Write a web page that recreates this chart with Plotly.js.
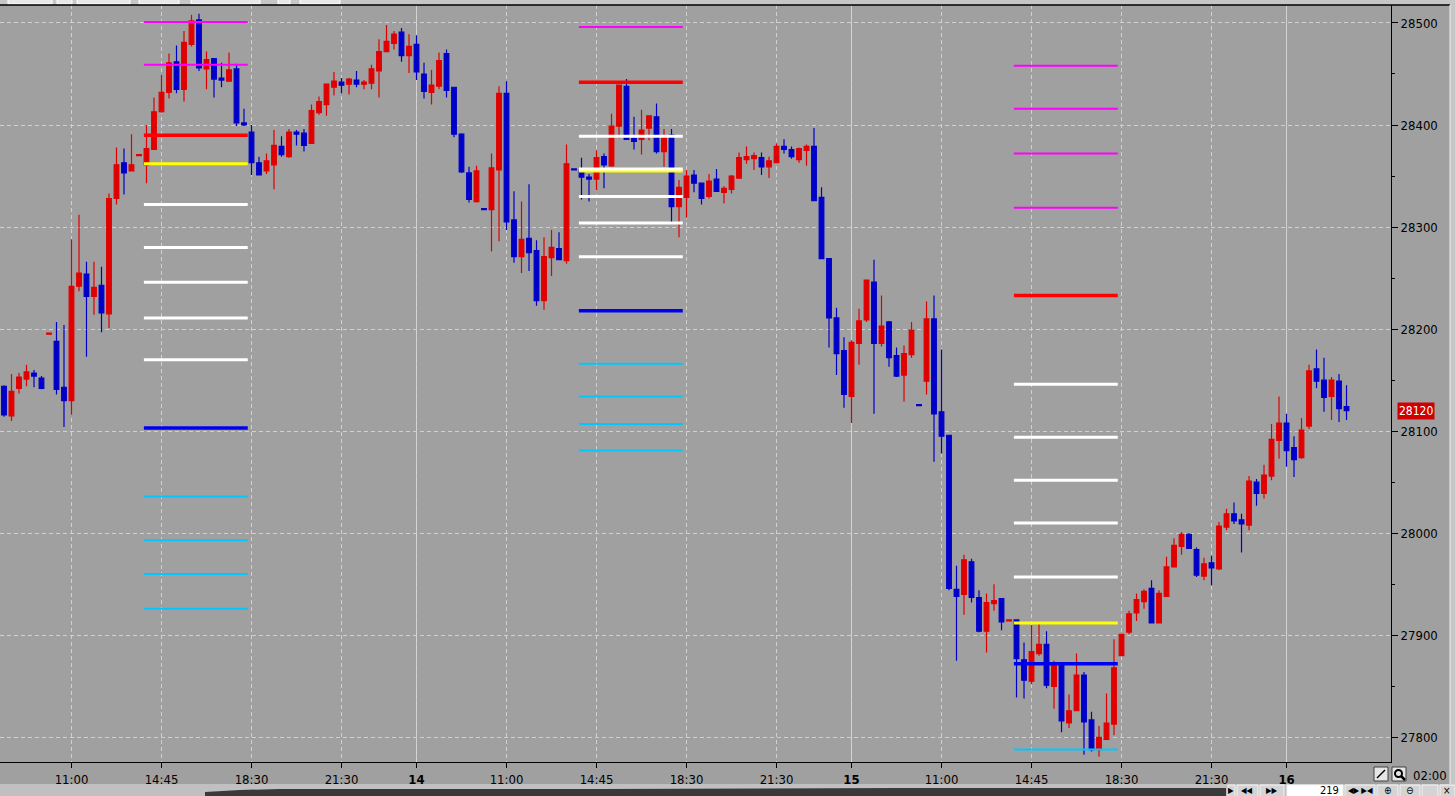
<!DOCTYPE html>
<html>
<head>
<meta charset="utf-8">
<script src="https://cdn.plot.ly/plotly-3.0.1.min.js"></script>
<style>
  html, body { margin: 0; padding: 0; background: #a0a0a0; overflow: hidden; }
  #chart { width: 1455px; height: 796px; }
</style>
</head>
<body>
<div id="chart"></div>
<script>
// 15 min style bars, one value per bar (index 0..179)
const openPx = [
  28144,28115,28142,28151,28157,28152,28195,28188,28143,28130,
  28242,28254,28232,28243,28215,28328,28363,28355,28370,28361,
  28376,28413,28432,28462,28435,28479,28503,28455,28465,28446,
  28443,28455,28402,28393,28363,28355,28361,28379,28369,28393,
  28392,28382,28412,28420,28437,28442,28440,28444,28440,28441,
  28453,28472,28480,28491,28468,28479,28450,28432,28438,28470,
  28437,28391,28353,28325,28318,28317,28356,28431,28307,28271,
  28289,28277,28228,28270,28279,28267,28357,28356,28349,28347,
  28369,28360,28399,28438,28387,28386,28397,28408,28374,28390,
  28320,28329,28351,28343,28330,28347,28334,28337,28348,28366,
  28367,28368,28359,28363,28379,28376,28366,28375,28379,28329,
  28269,28211,28179,28134,28186,28209,28246,28186,28207,28174,
  28155,28175,28126,28149,28210,28119,28096,27945,27940,27972,
  27937,27904,27931,27936,27914,27915,27876,27855,27882,27891,
  27850,27873,27814,27826,27861,27817,27788,27798,27813,27880,
  27903,27922,27933,27946,27912,27938,27967,27987,27999,27984,
  27958,27971,27965,28006,28019,28013,28008,28050,28039,28056,
  28091,28108,28084,28074,28105,28161,28150,28134,28149,28124
];
const highPx = [
  28145,28156,28157,28165,28160,28154,28196,28207,28204,28288,
  28312,28266,28266,28261,28333,28378,28377,28391,28371,28400,
  28427,28449,28470,28478,28492,28508,28509,28472,28465,28461,
  28471,28460,28416,28400,28369,28372,28395,28389,28396,28395,
  28396,28420,28428,28440,28452,28446,28446,28453,28444,28459,
  28484,28498,28492,28495,28489,28488,28461,28454,28471,28474,
  28437,28392,28359,28360,28318,28372,28438,28443,28335,28325,
  28342,28287,28290,28297,28295,28381,28357,28368,28352,28375,
  28372,28411,28439,28445,28408,28415,28409,28421,28396,28396,
  28346,28356,28356,28343,28352,28357,28340,28351,28373,28379,
  28373,28373,28369,28382,28386,28379,28378,28381,28397,28339,
  28269,28221,28192,28189,28220,28248,28268,28233,28208,28182,
  28184,28207,28126,28227,28233,28180,28096,27968,27979,27975,
  27944,27941,27950,27936,27915,27915,27893,27910,27912,27904,
  27875,27873,27842,27882,27864,27825,27811,27843,27896,27901,
  27924,27941,27945,27954,27944,27977,27995,28001,28000,27986,
  27976,27978,28011,28024,28030,28019,28056,28053,28067,28107,
  28134,28117,28095,28113,28165,28180,28172,28153,28156,28145
];
const lowPx = [
  28114,28110,28137,28144,28143,28141,28195,28136,28104,28116,
  28237,28173,28214,28197,28201,28322,28332,28355,28370,28343,
  28376,28412,28426,28431,28423,28477,28453,28435,28427,28437,
  28443,28399,28399,28351,28351,28352,28337,28369,28368,28380,
  28374,28382,28410,28409,28429,28431,28430,28437,28435,28435,
  28427,28472,28474,28462,28451,28444,28426,28420,28435,28427,
  28388,28353,28324,28324,28317,28276,28286,28297,28265,28255,
  28257,28223,28219,28252,28268,28264,28356,28327,28325,28336,
  28338,28359,28387,28386,28376,28371,28385,28372,28359,28304,
  28290,28309,28334,28322,28328,28335,28323,28333,28347,28362,
  28356,28351,28348,28363,28372,28367,28363,28360,28326,28269,
  28182,28155,28123,28108,28165,28207,28117,28183,28163,28153,
  28129,28172,28125,28136,28070,28078,27944,27875,27920,27932,
  27903,27883,27924,27905,27914,27839,27838,27852,27880,27848,
  27828,27805,27809,27826,27783,27786,27781,27798,27802,27880,
  27901,27914,27926,27912,27912,27938,27967,27979,27985,27957,
  27954,27949,27964,28003,28009,27981,28003,28027,28034,28052,
  28073,28065,28055,28073,28102,28142,28119,28111,28109,28111
];
const closePx = [
  28116,28139,28153,28158,28154,28142,28196,28141,28130,28242,
  28255,28232,28241,28216,28328,28361,28353,28361,28371,28377,
  28413,28432,28461,28435,28481,28502,28456,28464,28445,28444,
  28454,28402,28400,28363,28351,28365,28380,28371,28393,28391,
  28380,28414,28423,28440,28443,28439,28445,28440,28442,28455,
  28472,28482,28489,28468,28477,28452,28433,28439,28463,28434,
  28391,28354,28327,28355,28317,28358,28431,28305,28271,28288,
  28275,28228,28271,28280,28268,28362,28356,28349,28347,28368,
  28361,28399,28439,28386,28384,28395,28409,28374,28389,28320,
  28339,28350,28343,28328,28345,28335,28338,28350,28368,28369,
  28370,28359,28365,28379,28376,28369,28377,28379,28326,28269,
  28211,28176,28136,28187,28208,28248,28186,28203,28172,28154,
  28176,28199,28125,28210,28117,28095,27946,27938,27974,27937,
  27904,27932,27934,27913,27915,27877,27856,27884,27891,27851,
  27873,27816,27826,27861,27815,27788,27800,27814,27868,27901,
  27921,27935,27943,27912,27941,27967,27988,27999,27985,27959,
  27970,27966,28007,28019,28012,28009,28051,28039,28057,28092,
  28108,28081,28072,28101,28159,28149,28133,28150,28122,28120
];

// time axis labels (bar index -> label)
const tickBars = [9, 21, 33, 45, 55, 67, 79, 91, 103, 113, 125, 137, 149, 161, 171];
const tickText = ['11:00', '14:45', '18:30', '21:30', '<b>14</b>',
                  '11:00', '14:45', '18:30', '21:30', '<b>15</b>',
                  '11:00', '14:45', '18:30', '21:30', '<b>16</b>'];
const dayBars = [55, 113, 171];

// price levels, one list per session block
const sessionStart = [19, 77, 135];
const extHighLv = [[28501, 28459], [28496], [28458, 28416, 28372, 28319]];
const highLv = [[28390], [28442], [28233]];
const openLv = [[28362], [28355], [27912]];
const midLv = [[28322, 28280, 28246, 28211, 28170],
               [28389, 28357, 28330, 28304, 28271],
               [28146, 28094, 28052, 28010, 27957]];
const lowLv = [[28103], [28218], [27872]];
const extLowLv = [[28036, 27993, 27960, 27926], [28166, 28134, 28107, 28081], [27788]];

const FONT = '"Liberation Sans Narrow", "DejaVu Sans Condensed", "Liberation Sans", sans-serif';
const barIdx = openPx.map((_, i) => i);

function levelTrace(groups, color, width) {
  const xs = [], ys = [];
  groups.forEach((lv, g) => {
    lv.forEach(p => {
      xs.push(sessionStart[g] - 0.35, sessionStart[g] + 13.5, null);
      ys.push(p, p, null);
    });
  });
  return {
    type: 'scatter', mode: 'lines', x: xs, y: ys,
    line: { color: color, width: width }, hoverinfo: 'skip'
  };
}

const traces = [
  {
    type: 'candlestick',
    x: barIdx, open: openPx, high: highPx, low: lowPx, close: closePx,
    increasing: { line: { color: '#e00000', width: 1.2 }, fillcolor: '#e00000' },
    decreasing: { line: { color: '#0000c8', width: 1.2 }, fillcolor: '#0000c8' },
    whiskerwidth: 0,
    hoverinfo: 'skip'
  },
  levelTrace(extLowLv, '#00c8ff', 2),
  levelTrace(extHighLv, '#ff00ff', 2),
  levelTrace(openLv, '#ffff00', 3),
  levelTrace(midLv, '#ffffff', 3),
  levelTrace(highLv, '#ff0000', 3.5),
  levelTrace(lowLv, '#0000f0', 3.5)
];

// helpers for decoration placed in the margins (pixels -> paper)
const PW = 1391, PT = 5, PB = 762;
const px = v => v / PW;
const py = v => (PB - v) / (PB - PT);

const shapes = [];
dayBars.forEach(d => shapes.push({
  type: 'line', xref: 'x', yref: 'paper', x0: d, x1: d, y0: 0, y1: 1,
  line: { color: '#d6d6d6', width: 1 }, layer: 'below'
}));
// top tool strip
shapes.push({ type: 'rect', xref: 'paper', yref: 'paper', x0: 0, x1: px(1455), y0: py(5), y1: py(0),
  fillcolor: '#c6c6c6', line: { width: 0 } });
[[8, 52], [57, 72], [77, 130], [139, 179], [191, 260], [278, 290], [300, 340]].forEach(b => shapes.push({
  type: 'rect', xref: 'paper', yref: 'paper', x0: px(b[0]), x1: px(b[1]), y0: py(4), y1: py(-2),
  fillcolor: '#e8e8e8', line: { color: '#ffffff', width: 1 }
}));
shapes.push({ type: 'line', xref: 'paper', yref: 'paper', x0: 0, x1: px(1450), y0: 1, y1: 1,
  line: { color: '#000000', width: 1.5 } });
// right edge strip
shapes.push({ type: 'rect', xref: 'paper', yref: 'paper', x0: px(1450), x1: px(1456), y0: py(796), y1: py(0),
  fillcolor: '#c6c6c6', line: { width: 0 } });
shapes.push({ type: 'line', xref: 'paper', yref: 'paper', x0: px(1450), x1: px(1450), y0: py(784), y1: py(5),
  line: { color: '#f0f0f0', width: 1 } });
// bottom scroll strip
shapes.push({ type: 'rect', xref: 'paper', yref: 'paper', x0: 0, x1: px(1456), y0: py(797), y1: py(784),
  fillcolor: '#c0c0c0', line: { width: 0 } });
shapes.push({ type: 'path', xref: 'paper', yref: 'paper',
  path: `M ${px(205)} ${py(797)} L ${px(205)} ${py(792)} L ${px(240)} ${py(790)} L ${px(280)} ${py(789)} L ${px(600)} ${py(789)} L ${px(900)} ${py(788)} L ${px(1226)} ${py(788)} L ${px(1226)} ${py(797)} Z`,
  fillcolor: '#3a3a3a', line: { width: 0 } });
[[1228, 1235], [1237, 1258], [1260, 1284], [1287, 1343], [1345, 1375], [1377, 1398], [1400, 1420], [1422, 1438], [1440, 1455]].forEach(b => shapes.push({
  type: 'rect', xref: 'paper', yref: 'paper', x0: px(b[0]), x1: px(b[1]), y0: py(797), y1: py(785),
  fillcolor: b[0] === 1287 ? '#ffffff' : '#d4d4d4', line: { color: '#f4f4f4', width: 1 }
}));
// pencil / zoom buttons
[[1374, 1388], [1392, 1406]].forEach(b => shapes.push({
  type: 'rect', xref: 'paper', yref: 'paper', x0: px(b[0]), x1: px(b[1]), y0: py(781), y1: py(767),
  fillcolor: '#e6e6e6', line: { color: '#404040', width: 1 }
}));
shapes.push({ type: 'circle', xref: 'paper', yref: 'paper', x0: px(1395), x1: px(1402), y0: py(777), y1: py(770),
  fillcolor: 'rgba(0,0,0,0)', line: { color: '#000', width: 2 } });
shapes.push({ type: 'line', xref: 'paper', yref: 'paper', x0: px(1401), x1: px(1405), y0: py(776), y1: py(780),
  line: { color: '#000', width: 2.5 } });
shapes.push({ type: 'line', xref: 'paper', yref: 'paper', x0: px(1377), x1: px(1385), y0: py(778), y1: py(770),
  line: { color: '#000', width: 1.5 } });

const lastClose = closePx[closePx.length - 1];
const smallTxt = (x, y, text, size, anchor) => ({
  xref: 'paper', yref: 'paper', x: px(x), y: py(y), xanchor: anchor || 'center', yanchor: 'middle',
  text: text, showarrow: false, font: { family: FONT, size: size, color: '#000' }
});
const annotations = [
  { xref: 'paper', yref: 'y', x: 1, y: lastClose, xanchor: 'left', xshift: 6, yanchor: 'middle',
    text: String(lastClose), showarrow: false, bgcolor: '#d00000', borderpad: 1,
    font: { family: FONT, size: 12, color: '#ffffff' } },
  smallTxt(1430, 775, '02:00', 13),
  smallTxt(1341, 790, '219', 11, 'right'),
  smallTxt(1247, 790, '◀◀', 8),
  smallTxt(1272, 790, '▶▶', 8),
  smallTxt(1231, 790, '▶', 8),
  smallTxt(1360, 790, '◀▶ ▶◀', 8),
  smallTxt(1388, 790, '⊕', 10),
  smallTxt(1410, 790, '⊖', 10),
  smallTxt(1447, 790, '×', 10)
];

const layout = {
  width: 1455, height: 796,
  margin: { l: 0, r: 64, t: 5, b: 34, pad: 0 },
  paper_bgcolor: '#a0a0a0', plot_bgcolor: '#a0a0a0',
  showlegend: false,
  boxgap: 0.38, boxgroupgap: 0,
  xaxis: {
    range: [-0.533, 184.93], fixedrange: true,
    tickmode: 'array', tickvals: tickBars, ticktext: tickText,
    ticks: 'outside', ticklen: 5, tickcolor: '#000',
    showline: true, linecolor: '#000', linewidth: 1,
    showgrid: true, gridcolor: '#d0d0d0', griddash: '4px,3px', gridwidth: 1,
    zeroline: false, rangeslider: { visible: false },
    tickfont: { family: FONT, size: 13, color: '#000' }
  },
  yaxis: {
    side: 'right', range: [27775.8, 28517.6], fixedrange: true,
    tick0: 27800, dtick: 100, tickformat: 'd',
    ticks: 'outside', ticklen: 6, tickcolor: '#000',
    showline: true, linecolor: '#000', linewidth: 1,
    showgrid: true, gridcolor: '#d0d0d0', griddash: '4px,3px', gridwidth: 1,
    zeroline: false,
    minor: { tick0: 27750, dtick: 50, ticks: 'outside', ticklen: 3, tickcolor: '#000', showgrid: false },
    tickfont: { family: FONT, size: 13, color: '#000' }
  },
  shapes: shapes,
  annotations: annotations
};

Plotly.newPlot('chart', traces, layout, { displayModeBar: false, staticPlot: true });
</script>
</body>
</html>
